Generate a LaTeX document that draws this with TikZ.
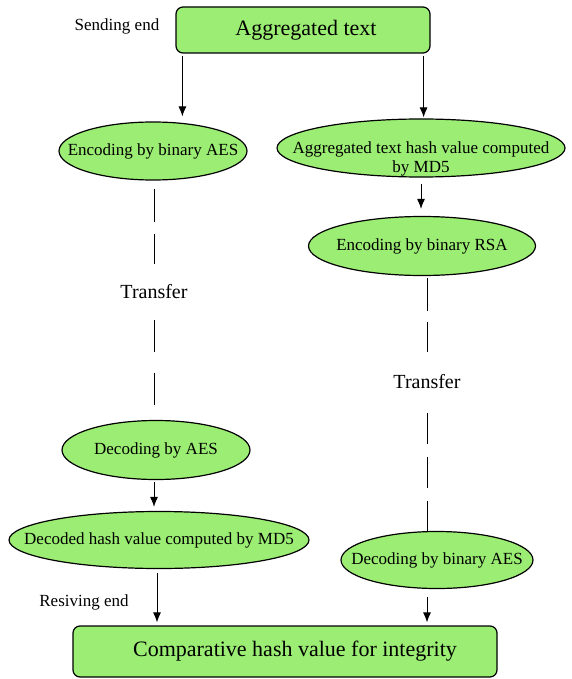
\documentclass[tikz,border=0pt]{standalone}
\usepackage{fontspec}
\setmainfont{Liberation Serif}
\usepackage{tikz}
\usetikzlibrary{shapes.geometric,arrows.meta}
\definecolor{leaf}{RGB}{155,238,115}
\newcommand{\elltext}{\fontsize{17}{19}\selectfont}
\newcommand{\boxtext}{\fontsize{22}{24}\selectfont}
\newcommand{\squeeze}[1]{\makebox[0pt]{#1}}
\tikzset{
  proc/.style={ellipse, draw, fill=leaf, line width=1.2pt, inner sep=0pt,
    font=\elltext},
  endbox/.style={rectangle, rounded corners=7pt, draw, fill=leaf,
    line width=1.2pt, inner sep=0pt, font=\boxtext},
  pass/.style={inner sep=0pt, font=\fontsize{20}{22}\selectfont},
  side/.style={inner sep=0pt, font=\elltext},
  flow/.style={line width=1pt, >={Latex[length=10pt,width=8pt]}},
  wire/.style={line width=1pt}
}

\begin{document}
\begin{tikzpicture}[x=1pt, y=-1pt]
	\useasboundingbox (0,0) rectangle (571,679);
	\node [endbox, minimum width=254pt, minimum height=46pt] (1) at (303,30) { \squeeze{\hspace{6pt}Aggregated text} };
	\node [side] (se) at (117,26) { Sending end };
	\node [proc, minimum width=188pt, minimum height=58pt] (2) at (153,151) { \squeeze{Encoding by binary AES} };
	\node [proc, minimum width=288pt, minimum height=58pt] (3) at (421,148)
	  { \squeeze{\smash{\raisebox{-16pt}{\begin{tabular}{@{}c@{}}Aggregated text hash value computed\\by MD5\end{tabular}}}} };
	\node [proc, minimum width=227pt, minimum height=59pt] (4) at (422,246) { \squeeze{Encoding by binary RSA} };
	\node [pass, minimum height=55pt] (t1) at (154,292) { Transfer };
	\node [pass, minimum height=60pt] (t2) at (427,382) { Transfer };
	\node [proc, minimum width=188pt, minimum height=59pt] (5) at (156,450) { \squeeze{Decoding by AES} };
	\node [proc, minimum width=300pt, minimum height=57pt] (6) at (159,540) { \squeeze{Decoded hash value computed by MD5} };
	\node [proc, minimum width=192pt, minimum height=57pt] (7) at (437,560) { \squeeze{Decoding by binary AES} };
	\node [side] (re) at (84,602) { Resiving end };
	\node [endbox, minimum width=424pt, minimum height=51pt] (8) at (285,651.5) { \squeeze{\hspace{20pt}Comparative hash value for integrity} };
        \draw [ flow, ->, shorten <=2pt, shorten >=5pt ]
          ([xshift=7pt]1.south west) to
	  ([xshift=7pt]1.south west |- 2.north);
        \draw [ flow, ->, shorten <=2pt, shorten >=1pt ]
          ([xshift=-7pt]1.south east) to
	  ([xshift=-7pt]1.south east |- 3.north);
        \draw [ flow, ->, shorten <=6pt, shorten >=7pt ]
          (3.south) to
	  (3.south |- 4.north);
        \draw [ wire, dash pattern=on 33pt off 12pt, shorten <=8pt ]
          (2.south -| t1) to
	  (t1.north);
        \draw [ wire, dash pattern=on 32pt off 21pt, shorten >=14pt ]
          (t1.south) to
	  (t1 |- 5.north);
        \draw [ wire, dash pattern=on 33pt off 11pt, shorten <=2pt ]
          (4.south -| t2) to
	  (t2.north);
        \draw [ wire, dash pattern=on 31pt off 13pt, shorten <=1pt ]
          (t2.south) to
	  (t2 |- 7.north);
        \draw [ flow, ->, shorten <=2pt, shorten >=4pt ]
          (t1 |- 5.south) to
	  (t1 |- 6.north);
        \draw [ flow, ->, shorten <=4pt, shorten >=3pt ]
          ([xshift=-2pt]6.south) to
	  ([xshift=-2pt]6.south |- 8.north);
        \draw [ flow, ->, shorten <=8pt, shorten >=3pt ]
          (t2 |- 7.south) to
	  (t2 |- 8.north);
\end{tikzpicture}
\end{document}
